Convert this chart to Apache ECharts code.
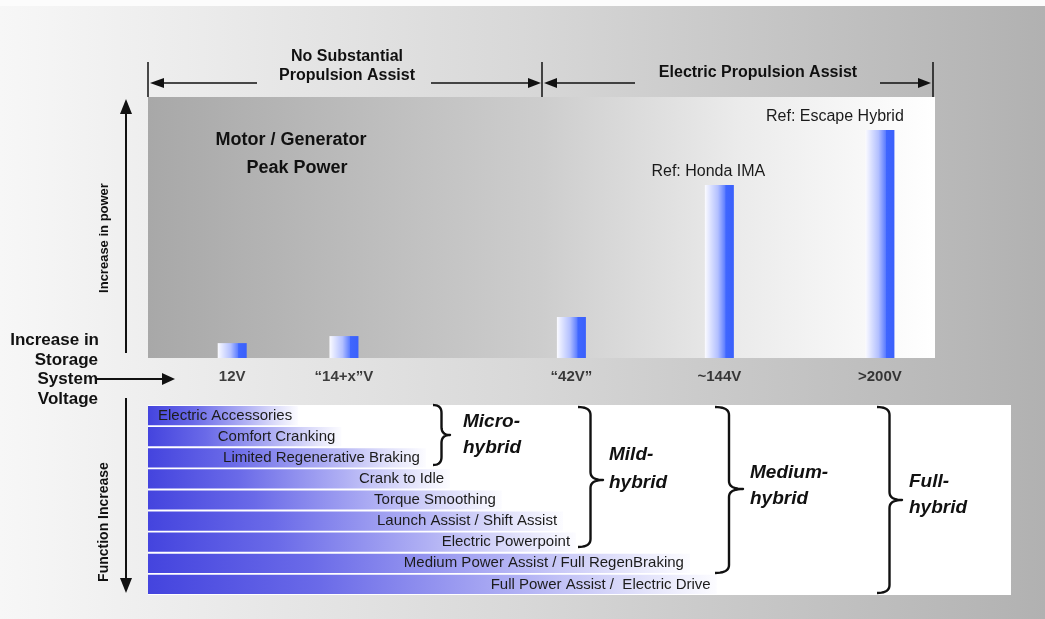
<!DOCTYPE html>
<html><head><meta charset="utf-8">
<script src="https://cdn.jsdelivr.net/npm/echarts@6/dist/echarts.min.js"></script>
<style>html,body{margin:0;padding:0;background:#fff}#c{width:1045px;height:619px}</style>
</head><body><div id="c"></div>
<script>
// ---- data ----
const voltageLabels = ['12V', '\u201C14+x\u201DV', '\u201C42V\u201D', '~144V', '>200V'];
const voltagePosition = [10.7, 24.9, 53.8, 72.6, 93.0];   // position along the voltage axis (0-100)
const peakPower = [5.7, 8.4, 15.7, 66.3, 87.4];            // relative motor/generator peak power (0-100)
const refLabels = ['', '', '', 'Ref: Honda IMA', 'Ref: Escape Hybrid'];
const functions = ['Electric Accessories', 'Comfort Cranking', 'Limited Regenerative Braking', 'Crank to Idle',
  'Torque Smoothing', 'Launch Assist / Shift Assist', 'Electric Powerpoint',
  'Medium Power Assist / Full RegenBraking', 'Full Power Assist /  Electric Drive'];
const functionReach = [17.4, 22.4, 32.2, 35.0, 41.0, 48.1, 49.6, 62.8, 65.9];
const hybridClasses = [['Micro-', 'hybrid'], ['Mild-', 'hybrid'], ['Medium-', 'hybrid'], ['Full-', 'hybrid']];

// ---- helpers ----
const F = '"Liberation Sans", Arial, Helvetica, sans-serif';
const INK = '#111';
function txt(text, x, y, size, o) {
  o = o || {};
  return { type: 'text', x: x, y: y, rotation: o.rot || 0, z: 50,
    style: { text: text, x: 0, y: 0, fontSize: size, fontFamily: F,
      fontWeight: o.bold ? 'bold' : 'normal', fontStyle: o.italic ? 'italic' : 'normal',
      fill: o.color || INK, textAlign: o.align || 'center', verticalAlign: 'middle', textVerticalAlign: 'middle' } };
}
function line(x1, y1, x2, y2, w) {
  return { type: 'line', z: 50, shape: { x1, y1, x2, y2 }, style: { stroke: INK, lineWidth: w || 2 } };
}
function tri(points) {
  return { type: 'polygon', z: 50, shape: { points: points }, style: { fill: INK } };
}
function bracePts(x0, xt, yT, yM, yB) {
  const xm = (x0 + xt) / 2, r = 8, pts = [];
  function quad(p0, c, p1) {
    for (let i = 0; i <= 10; i++) {
      const t = i / 10, a = (1 - t) * (1 - t), b = 2 * (1 - t) * t, d = t * t;
      pts.push([a * p0[0] + b * c[0] + d * p1[0], a * p0[1] + b * c[1] + d * p1[1]]);
    }
  }
  quad([x0, yT], [xm, yT], [xm, yT + r]);
  quad([xm, yM - r], [xm, yM], [xt, yM]);
  quad([xt, yM], [xm, yM], [xm, yM + r]);
  quad([xm, yB - r], [xm, yB], [x0, yB]);
  return { type: 'polyline', z: 50, shape: { points: pts }, style: { stroke: INK, lineWidth: 2.4, fill: null, lineJoin: 'round' } };
}

const G = echarts.graphic;
const graphics = [
  { type: 'rect', z: -10, shape: { x: 0, y: 0, width: 1045, height: 619 },
    style: { fill: new G.LinearGradient(0, 0, 1, 0, [
      { offset: 0, color: '#f7f7f7' }, { offset: 0.5, color: '#d8d8d8' }, { offset: 1, color: '#b1b1b1' }]) } },
  { type: 'rect', z: -9, shape: { x: 0, y: 0, width: 1045, height: 6 }, style: { fill: '#fcfcfc' } },
  // top range arrows
  line(148, 62, 148, 97, 1.5), line(542, 62, 542, 97, 1.5), line(933, 62, 933, 97, 1.5),
  tri([[150, 83], [164, 78], [164, 88]]), line(164, 83, 257, 83, 1.5),
  line(431, 83, 528, 83, 1.5), tri([[541, 83], [528, 78], [528, 88]]),
  tri([[544, 83], [557, 78], [557, 88]]), line(557, 83, 635, 83, 1.5),
  line(880, 83, 918, 83, 1.5), tri([[931, 83], [918, 78], [918, 88]]),
  txt('No Substantial', 347, 57, 16, { bold: true }),
  txt('Propulsion Assist', 347, 76, 16, { bold: true }),
  txt('Electric Propulsion Assist', 758, 73, 16, { bold: true }),
  txt('Motor / Generator', 291, 140, 18, { bold: true }),
  txt('Peak Power', 297, 168, 18, { bold: true }),
  // left axes
  line(126, 112, 126, 353, 2), tri([[126, 99], [120, 114], [132, 114]]),
  txt('Increase in power', 104, 238, 13, { bold: true, rot: Math.PI / 2 }),
  txt('Increase in', 99, 340, 17, { bold: true, align: 'right' }),
  txt('Storage', 98, 360, 17, { bold: true, align: 'right' }),
  txt('System', 98, 379, 17, { bold: true, align: 'right' }),
  txt('Voltage', 98, 399, 17, { bold: true, align: 'right' }),
  line(96, 379, 163, 379, 2), tri([[175, 379], [162, 373], [162, 385]]),
  line(126, 398, 126, 580, 2), tri([[126, 593], [120, 578], [132, 578]]),
  txt('Function Increase', 104, 522, 14, { bold: true, rot: Math.PI / 2 }),
  // braces
  bracePts(433, 450, 405, 435, 465),
  bracePts(578, 603, 407, 480, 547),
  bracePts(715, 743, 407, 489, 573),
  bracePts(877, 902, 407, 500, 593)
];
const hybridPos = [[463, 422, 448], [609, 455, 483], [750, 473, 499], [909, 482, 508]];
hybridClasses.forEach((h, i) => {
  const p = hybridPos[i];
  graphics.push(txt(h[0], p[0], p[1], 19, { bold: true, italic: true, align: 'left' }));
  graphics.push(txt(h[1], p[0], p[2], 19, { bold: true, italic: true, align: 'left' }));
});

const refOffsets = { 3: [-11, 0], 4: [-45, 0] };
const powerBars = peakPower.map((v, i) => ({
  value: [voltagePosition[i], v],
  label: { show: !!refLabels[i], formatter: refLabels[i], offset: refOffsets[i] || [0, 0] }
}));
const voltageTicks = voltageLabels.map((n, i) => ({ name: n, value: [voltagePosition[i], 0] }));

const option = {
  animation: false,
  graphic: { elements: graphics },
  grid: [
    { left: 148, top: 97, width: 787, height: 261, show: true, borderWidth: 0,
      backgroundColor: new G.LinearGradient(0, 0, 1, 0, [
        { offset: 0, color: '#a8a8a8' }, { offset: 0.5, color: '#cdcdcd' },
        { offset: 0.75, color: '#ebebeb' }, { offset: 1, color: '#ffffff' }]) },
    { left: 148, top: 405, width: 863, height: 190, show: true, borderWidth: 0, backgroundColor: '#ffffff' }
  ],
  xAxis: [
    { gridIndex: 0, type: 'value', min: 0, max: 100, show: false },
    { gridIndex: 1, type: 'value', min: 0, max: 100, show: false }
  ],
  yAxis: [
    { gridIndex: 0, type: 'value', min: 0, max: 100, show: false },
    { gridIndex: 1, type: 'category', data: functions, inverse: true, show: false }
  ],
  series: [
    { type: 'bar', xAxisIndex: 0, yAxisIndex: 0, barWidth: 29, data: powerBars,
      itemStyle: { color: new G.LinearGradient(0, 0, 1, 0, [
        { offset: 0, color: '#fbfbff' }, { offset: 0.45, color: '#b3c0ff' },
        { offset: 0.7, color: '#5c7dff' }, { offset: 0.72, color: '#3f66ff' }, { offset: 1, color: '#3a60fb' }]) },
      label: { position: 'top', distance: 5, color: '#1a1a1a', fontSize: 16, fontFamily: F } },
    { type: 'scatter', xAxisIndex: 0, yAxisIndex: 0, symbolSize: 1, itemStyle: { color: 'rgba(0,0,0,0)' },
      data: voltageTicks, silent: true,
      label: { show: true, position: 'bottom', distance: 11, formatter: '{b}', color: '#111',
        fontSize: 15, fontWeight: 'bold', fontFamily: F } },
    { type: 'bar', xAxisIndex: 1, yAxisIndex: 1, barCategoryGap: '9%', data: functionReach,
      itemStyle: { color: new G.LinearGradient(0, 0, 1, 0, [
        { offset: 0, color: '#4444de' }, { offset: 0.3, color: '#6a6ae8' },
        { offset: 0.65, color: '#b0b0f4' }, { offset: 0.88, color: '#e4e4fb' }, { offset: 1, color: '#fcfcff' }]) },
      label: { show: true, position: 'insideRight', distance: 6, formatter: '{b}', color: '#1c1c1c',
        fontSize: 15, fontFamily: F } }
  ]
};
const chart = echarts.init(document.getElementById('c'));
chart.setOption(option);
</script>
</body></html>
